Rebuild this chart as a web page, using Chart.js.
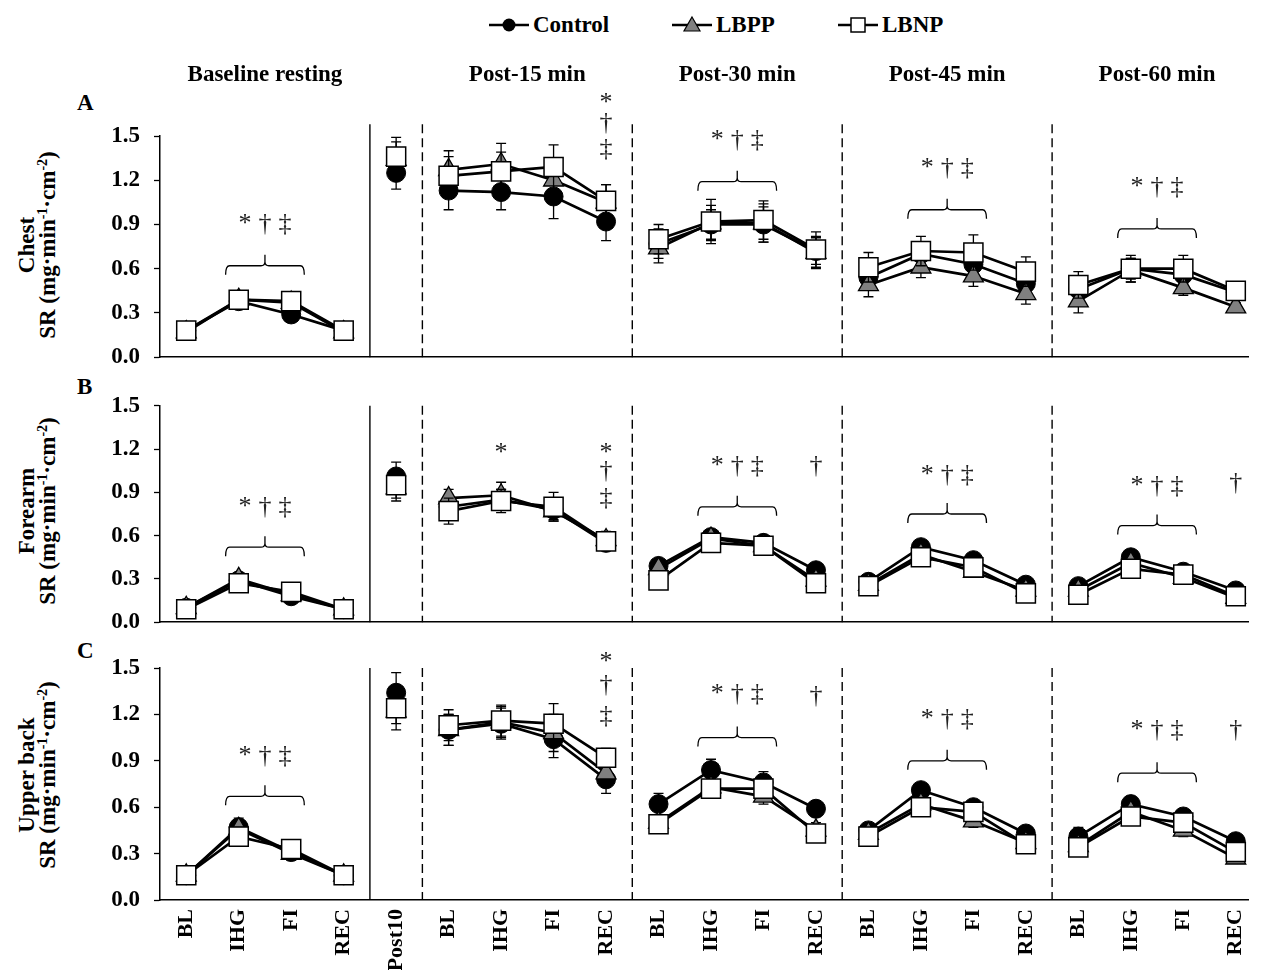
<!DOCTYPE html>
<html>
<head>
<meta charset="utf-8">
<script src="https://cdn.jsdelivr.net/npm/chart.js@4.4.1/dist/chart.umd.min.js"></script>
<style>
  body { margin: 0; background: #fff; overflow: hidden; }
  #wrap { position: relative; width: 1263px; height: 970px; font-family: 'Liberation Serif', 'Times New Roman', serif; font-weight: bold; color: #000; }
  canvas { position: absolute; left: 0; }
  .txt { position: absolute; font-size: 23px; white-space: nowrap; line-height: 24px; }
  .head { transform: translateX(-50%); }
  .leg { position: absolute; top: 12px; display: flex; align-items: center; font-size: 23px; }
  .leg svg { margin-right: 4px; }
  .ytitle { position: absolute; width: 300px; height: 44px; font-size: 23px; line-height: 21px; text-align: center; transform: rotate(-90deg); white-space: nowrap; }
  .ytitle sup { font-size: 14px; line-height: 0; vertical-align: 8px; }
</style>
</head>
<body>
<div id="wrap">
  <div class="leg" style="left:489px">
    <svg width="40" height="20"><line x1="0" y1="10" x2="40" y2="10" stroke="#000" stroke-width="2.5"/><circle cx="20" cy="10" r="6.5" fill="#000"/></svg>Control
  </div>
  <div class="leg" style="left:672px">
    <svg width="40" height="20"><line x1="0" y1="10" x2="40" y2="10" stroke="#000" stroke-width="2.5"/><polygon points="20,2 28,16 12,16" fill="#808080" stroke="#000" stroke-width="1.2"/></svg>LBPP
  </div>
  <div class="leg" style="left:838px">
    <svg width="40" height="20"><line x1="0" y1="10" x2="40" y2="10" stroke="#000" stroke-width="2.5"/><rect x="13" y="3" width="14" height="14" fill="#fff" stroke="#000" stroke-width="1.5"/></svg>LBNP
  </div>

  <div class="txt" style="left:77px;top:91px">A</div>
  <div class="txt" style="left:77px;top:375px">B</div>
  <div class="txt" style="left:77px;top:639px">C</div>

  <div class="ytitle" style="left:-112px;top:223px">Chest<br>SR (mg·min<sup>-1</sup>·cm<sup>-2</sup>)</div>
  <div class="ytitle" style="left:-112px;top:489px">Forearm<br>SR (mg·min<sup>-1</sup>·cm<sup>-2</sup>)</div>
  <div class="ytitle" style="left:-112px;top:753px">Upper back<br>SR (mg·min<sup>-1</sup>·cm<sup>-2</sup>)</div>

  <canvas id="chest" width="1263" height="300" style="top:85px"></canvas>
  <canvas id="forearm" width="1263" height="272" style="top:378px"></canvas>
  <canvas id="back" width="1263" height="330" style="top:640px"></canvas>
</div>

<script>
// x categories, tick labels
const xLabels = ['BL', 'IHG', 'FI', 'REC', 'Post10',
  'BL', 'IHG', 'FI', 'REC', 'BL', 'IHG', 'FI', 'REC',
  'BL', 'IHG', 'FI', 'REC', 'BL', 'IHG', 'FI', 'REC'];
const yTicks = [0, 0.3, 0.6, 0.9, 1.2, 1.5];
const groupTitles = ['Baseline resting', 'Post-15 min', 'Post-30 min', 'Post-45 min', 'Post-60 min'];
const groupCenters = [1.5, 6.5, 10.5, 14.5, 18.5];
const lineBreaks = [3, 4, 8, 12, 16];
const solidSeps = [3.5];
const dashedSeps = [4.5, 8.5, 12.5, 16.5];

// A - Chest
const chestControl = [0.18, 0.38, 0.29, 0.18, 1.25, 1.13, 1.12, 1.09, 0.92, 0.77, 0.90, 0.90, 0.72, 0.54, 0.70, 0.63, 0.50, 0.46, 0.60, 0.56, 0.44];
const chestLBPP    = [0.17, 0.39, 0.37, 0.17, 1.34, 1.27, 1.31, 1.20, 1.05, 0.74, 0.91, 0.91, 0.71, 0.49, 0.61, 0.55, 0.43, 0.38, 0.59, 0.47, 0.34];
const chestLBNP    = [0.18, 0.39, 0.38, 0.18, 1.36, 1.23, 1.26, 1.29, 1.06, 0.80, 0.92, 0.93, 0.73, 0.61, 0.72, 0.71, 0.58, 0.49, 0.60, 0.60, 0.45];
const chestControlErr = [0.03, 0.05, 0.05, 0.03, 0.11, 0.13, 0.12, 0.15, 0.13, 0.10, 0.10, 0.12, 0.09, 0.08, 0.08, 0.07, 0.07, 0.07, 0.07, 0.06, 0.04];
const chestLBPPErr    = [0.02, 0.05, 0.05, 0.02, 0.12, 0.13, 0.14, 0.13, 0.12, 0.10, 0.12, 0.13, 0.11, 0.08, 0.07, 0.07, 0.07, 0.08, 0.08, 0.05, 0.03];
const chestLBNPErr    = [0.02, 0.05, 0.05, 0.02, 0.13, 0.13, 0.13, 0.15, 0.11, 0.10, 0.15, 0.13, 0.12, 0.10, 0.10, 0.12, 0.10, 0.09, 0.09, 0.09, 0.04];
const chestMarks = [
  { x: 1.5, y: 0.90, text: '* † ‡' }, { x: 10.5, y: 1.47, text: '* † ‡' },
  { x: 14.5, y: 1.28, text: '* † ‡' }, { x: 18.5, y: 1.15, text: '* † ‡' },
  { x: 8, y: 1.72, text: '*' }, { x: 8, y: 1.59, text: '†' }, { x: 8, y: 1.41, text: '‡' }
];
const chestBrackets = [
  { from: 0.75, to: 2.25, y: 0.62 }, { from: 9.75, to: 11.25, y: 1.19 },
  { from: 13.75, to: 15.25, y: 1.00 }, { from: 17.75, to: 19.25, y: 0.87 }
];

// B - Forearm
const forearmControl = [0.10, 0.29, 0.18, 0.09, 1.01, 0.80, 0.85, 0.78, 0.55, 0.39, 0.59, 0.55, 0.36, 0.28, 0.52, 0.43, 0.26, 0.25, 0.45, 0.35, 0.22];
const forearmLBPP    = [0.10, 0.30, 0.19, 0.09, 0.93, 0.86, 0.88, 0.77, 0.57, 0.37, 0.58, 0.53, 0.29, 0.26, 0.47, 0.35, 0.22, 0.22, 0.41, 0.31, 0.17];
const forearmLBNP    = [0.09, 0.27, 0.21, 0.09, 0.95, 0.77, 0.84, 0.80, 0.56, 0.29, 0.55, 0.53, 0.27, 0.25, 0.45, 0.38, 0.20, 0.19, 0.37, 0.33, 0.18];
const forearmControlErr = [0.01, 0.03, 0.02, 0.01, 0.10, 0.06, 0.07, 0.07, 0.05, 0.03, 0.03, 0.03, 0.03, 0.02, 0.02, 0.02, 0.02, 0.02, 0.02, 0.02, 0.02];
const forearmLBPPErr    = [0.01, 0.03, 0.02, 0.01, 0.09, 0.06, 0.09, 0.07, 0.06, 0.03, 0.03, 0.03, 0.03, 0.02, 0.03, 0.02, 0.02, 0.02, 0.02, 0.02, 0.02];
const forearmLBNPErr    = [0.01, 0.03, 0.02, 0.01, 0.09, 0.09, 0.08, 0.10, 0.05, 0.03, 0.03, 0.03, 0.03, 0.02, 0.02, 0.02, 0.02, 0.02, 0.02, 0.02, 0.02];
const forearmMarks = [
  { x: 1.5, y: 0.80, text: '* † ‡' }, { x: 10.5, y: 1.08, text: '* † ‡' },
  { x: 14.5, y: 1.02, text: '* † ‡' }, { x: 18.5, y: 0.945, text: '* † ‡' },
  { x: 6, y: 1.17, text: '*' },
  { x: 8, y: 1.17, text: '*' }, { x: 8, y: 1.05, text: '†' }, { x: 8, y: 0.86, text: '‡' },
  { x: 12, y: 1.08, text: '†' }, { x: 20, y: 0.965, text: '†' }
];
const forearmBrackets = [
  { from: 0.75, to: 2.25, y: 0.52 }, { from: 9.75, to: 11.25, y: 0.80 },
  { from: 13.75, to: 15.25, y: 0.75 }, { from: 17.75, to: 19.25, y: 0.67 }
];

// C - Upper back
const backControl = [0.16, 0.47, 0.31, 0.16, 1.34, 1.10, 1.14, 1.04, 0.78, 0.62, 0.84, 0.76, 0.59, 0.45, 0.71, 0.60, 0.43, 0.41, 0.62, 0.54, 0.38];
const backLBPP    = [0.16, 0.46, 0.30, 0.16, 1.22, 1.10, 1.15, 1.08, 0.82, 0.50, 0.73, 0.67, 0.45, 0.43, 0.62, 0.51, 0.37, 0.35, 0.57, 0.45, 0.27];
const backLBNP    = [0.16, 0.41, 0.33, 0.16, 1.24, 1.13, 1.16, 1.14, 0.92, 0.49, 0.72, 0.72, 0.43, 0.41, 0.60, 0.57, 0.36, 0.34, 0.54, 0.50, 0.31];
const backControlErr = [0.02, 0.06, 0.04, 0.02, 0.13, 0.10, 0.10, 0.12, 0.09, 0.07, 0.07, 0.07, 0.05, 0.04, 0.04, 0.04, 0.03, 0.06, 0.05, 0.04, 0.03];
const backLBPPErr    = [0.02, 0.06, 0.04, 0.02, 0.12, 0.10, 0.10, 0.12, 0.09, 0.05, 0.05, 0.05, 0.05, 0.04, 0.04, 0.04, 0.03, 0.04, 0.04, 0.04, 0.03];
const backLBNPErr    = [0.02, 0.06, 0.04, 0.02, 0.10, 0.10, 0.10, 0.13, 0.06, 0.05, 0.05, 0.05, 0.05, 0.04, 0.04, 0.04, 0.03, 0.04, 0.04, 0.04, 0.03];
const backMarks = [
  { x: 1.5, y: 0.93, text: '* † ‡' }, { x: 10.5, y: 1.33, text: '* † ‡' },
  { x: 14.5, y: 1.17, text: '* † ‡' }, { x: 18.5, y: 1.10, text: '* † ‡' },
  { x: 8, y: 1.54, text: '*' }, { x: 8, y: 1.39, text: '†' }, { x: 8, y: 1.19, text: '‡' },
  { x: 12, y: 1.32, text: '†' }, { x: 20, y: 1.10, text: '†' }
];
const backBrackets = [
  { from: 0.75, to: 2.25, y: 0.67 }, { from: 9.75, to: 11.25, y: 1.05 },
  { from: 13.75, to: 15.25, y: 0.90 }, { from: 17.75, to: 19.25, y: 0.82 }
];

const serif = "'Liberation Serif', 'Times New Roman', serif";
const xMax = 20.233;

// error bars drawn just before each dataset so they stack with it
const errBars = {
  id: 'errBars',
  beforeDatasetDraw(chart, args) {
    const ds = chart.data.datasets[args.index];
    if (!ds.errors) return;
    const ctx = chart.ctx, y = chart.scales.y;
    ctx.save();
    ctx.strokeStyle = '#000';
    ctx.lineWidth = 1.3;
    args.meta.data.forEach((pt, i) => {
      const v = ds.data[i].y, e = ds.errors[i];
      const top = y.getPixelForValue(v + e), bot = y.getPixelForValue(v - e);
      ctx.beginPath();
      ctx.moveTo(pt.x, top); ctx.lineTo(pt.x, bot);
      ctx.moveTo(pt.x - 5, top); ctx.lineTo(pt.x + 5, top);
      ctx.moveTo(pt.x - 5, bot); ctx.lineTo(pt.x + 5, bot);
      ctx.stroke();
    });
    ctx.restore();
  }
};

// group separators, brackets and significance symbols
const decor = {
  id: 'decor',
  beforeDatasetsDraw(chart, args, opts) {
    const ctx = chart.ctx, x = chart.scales.x, y = chart.scales.y;
    const top = y.getPixelForValue(opts.sepTop), bot = chart.chartArea.bottom;
    ctx.save();
    ctx.strokeStyle = '#000';
    ctx.lineWidth = 1.4;
    solidSeps.forEach(s => {
      ctx.beginPath(); ctx.moveTo(x.getPixelForValue(s), top); ctx.lineTo(x.getPixelForValue(s), bot); ctx.stroke();
    });
    ctx.setLineDash([9, 5]);
    dashedSeps.forEach(s => {
      ctx.beginPath(); ctx.moveTo(x.getPixelForValue(s), top); ctx.lineTo(x.getPixelForValue(s), bot); ctx.stroke();
    });
    ctx.restore();
  },
  afterDraw(chart, args, opts) {
    const ctx = chart.ctx, x = chart.scales.x, y = chart.scales.y;
    ctx.save();
    ctx.strokeStyle = '#000';
    ctx.lineWidth = 1.3;
    opts.brackets.forEach(b => {
      const x0 = x.getPixelForValue(b.from), x1 = x.getPixelForValue(b.to);
      const xm = (x0 + x1) / 2, yy = y.getPixelForValue(b.y), r = 4;
      ctx.beginPath();
      ctx.moveTo(x0, yy + 9);
      ctx.quadraticCurveTo(x0, yy, x0 + r, yy);
      ctx.lineTo(xm - r, yy);
      ctx.quadraticCurveTo(xm, yy, xm, yy - r);
      ctx.lineTo(xm, yy - 11);
      ctx.moveTo(xm, yy - r);
      ctx.quadraticCurveTo(xm, yy, xm + r, yy);
      ctx.lineTo(x1 - r, yy);
      ctx.quadraticCurveTo(x1, yy, x1, yy + 9);
      ctx.stroke();
    });
    ctx.fillStyle = '#222';
    ctx.font = '26px ' + serif;
    ctx.textAlign = 'center';
    ctx.textBaseline = 'middle';
    opts.marks.forEach(m => {
      const parts = m.text.split(' ');
      const cx = x.getPixelForValue(m.x), cy = y.getPixelForValue(m.y);
      parts.forEach((ch, k) => ctx.fillText(ch, cx + (k - (parts.length - 1) / 2) * 20, cy));
    });
    ctx.restore();
  }
};

function series(label, vals, errs, style) {
  return Object.assign({
    label: label,
    data: vals.map((v, i) => ({ x: i, y: v })),
    errors: errs,
    borderColor: '#000',
    borderWidth: 2.7,
    pointBorderColor: '#000',
    tension: 0,
    segment: { borderColor: c => lineBreaks.includes(c.p0DataIndex) ? 'transparent' : undefined }
  }, style);
}

function makePanel(id, p) {
  return new Chart(document.getElementById(id), {
    type: 'line',
    data: {
      datasets: [
        series('Control', p.control, p.controlErr, { order: 3, pointStyle: 'circle', pointRadius: 9.5, pointBackgroundColor: '#000', pointBorderWidth: 1 }),
        series('LBPP', p.lbpp, p.lbppErr, { order: 2, pointStyle: 'triangle', pointRadius: 11.5, pointBackgroundColor: '#808080', pointBorderWidth: 1.3 }),
        series('LBNP', p.lbnp, p.lbnpErr, { order: 1, pointStyle: 'rect', pointRadius: 13.5, pointBackgroundColor: '#fff', pointBorderWidth: 1.5 })
      ]
    },
    options: {
      responsive: false,
      animation: false,
      events: [],
      layout: { padding: { top: p.padTop, bottom: p.padBottom, left: 0, right: 0 } },
      plugins: {
        legend: { display: false },
        tooltip: { enabled: false },
        decor: { marks: p.marks, brackets: p.brackets, sepTop: p.sepTop }
      },
      scales: {
        x: {
          type: 'linear', min: -0.5, max: xMax,
          afterBuildTicks: s => { s.ticks = xLabels.map((l, i) => ({ value: i })); },
          afterFit: s => { s.height = p.xHeight; s.paddingLeft = 0; s.paddingRight = 0; },
          ticks: {
            display: p.showX, autoSkip: false, minRotation: 90, maxRotation: 90, padding: 9,
            color: '#000', font: { family: serif, size: 22, weight: 'bold' },
            callback: (v, i) => xLabels[i]
          },
          grid: { display: false, drawTicks: false },
          border: { display: true, color: '#000', width: 1.5 }
        },
        y: {
          min: 0, max: 1.5,
          afterBuildTicks: s => { s.ticks = yTicks.map(v => ({ value: v })); },
          afterFit: s => { s.width = 160; },
          ticks: {
            padding: 14, color: '#000', font: { family: serif, size: 23, weight: 'bold' },
            callback: v => v.toFixed(1)
          },
          grid: { drawOnChartArea: false, drawTicks: true, tickLength: 6, tickColor: '#000', tickWidth: 1.3 },
          border: { display: true, color: '#000', width: 1.5 }
        }
      }
    },
    plugins: [errBars, decor]
  });
}

const chestChart = makePanel('chest', {
  control: chestControl, lbpp: chestLBPP, lbnp: chestLBNP,
  controlErr: chestControlErr, lbppErr: chestLBPPErr, lbnpErr: chestLBNPErr,
  marks: chestMarks, brackets: chestBrackets, sepTop: 1.58,
  padTop: 51, padBottom: 18, xHeight: 0, showX: false
});
makePanel('forearm', {
  control: forearmControl, lbpp: forearmLBPP, lbnp: forearmLBNP,
  controlErr: forearmControlErr, lbppErr: forearmLBPPErr, lbnpErr: forearmLBNPErr,
  marks: forearmMarks, brackets: forearmBrackets, sepTop: 1.5,
  padTop: 25, padBottom: 20, xHeight: 0, showX: false
});
makePanel('back', {
  control: backControl, lbpp: backLBPP, lbnp: backLBNP,
  controlErr: backControlErr, lbppErr: backLBPPErr, lbnpErr: backLBNPErr,
  marks: backMarks, brackets: backBrackets, sepTop: 1.5,
  padTop: 28, padBottom: 0, xHeight: 70, showX: true
});

// column headers over each group
const wrap = document.getElementById('wrap');
groupTitles.forEach((t, i) => {
  const d = document.createElement('div');
  d.className = 'txt head';
  d.textContent = t;
  d.style.left = chestChart.scales.x.getPixelForValue(groupCenters[i]) + 'px';
  d.style.top = '62px';
  wrap.appendChild(d);
});
</script>
</body>
</html>
